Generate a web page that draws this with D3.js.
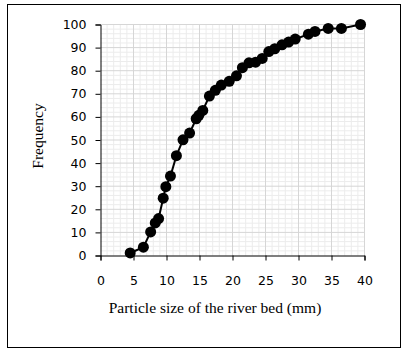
<!DOCTYPE html>
<html>
<head>
<meta charset="utf-8">
<script src="https://cdn.jsdelivr.net/npm/d3@7"></script>
<style>
  body { margin: 0; background: #fff; }
  svg { display: block; }
</style>
</head>
<body>
<svg width="406" height="355"></svg>
<script>
// particle size (mm) and cumulative frequency
const sizes = [4.5, 6.5, 7.6, 8.3, 8.8, 9.5, 9.9, 10.6, 11.5, 12.5, 13.5, 14.5, 14.9, 15.5,
               16.5, 17.4, 18.3, 19.5, 20.6, 21.5, 22.5, 23.5, 24.5, 25.5, 26.4, 27.5, 28.5,
               29.5, 31.5, 32.5, 34.5, 36.5, 39.4];
const frequency = [1.1, 3.6, 10.2, 14.1, 16, 24.8, 29.8, 34.4, 43.2, 50.1, 53, 59.2, 60.7, 62.8,
                   69, 71.5, 73.8, 75.4, 77.8, 81.3, 83.4, 83.7, 85.3, 88.3, 89.5, 91.2, 92.4,
                   93.7, 95.8, 97, 98.3, 98.3, 100];
const xTicks = [0, 5, 10, 15, 20, 25, 30, 35, 40];
const yTicks = [0, 10, 20, 30, 40, 50, 60, 70, 80, 90, 100];
const xTitle = "Particle size of the river bed (mm)";
const yTitle = "Frequency";

const points = sizes.map((s, i) => ({ x: s, y: frequency[i] }));

const svg = d3.select("svg");

// frame round the whole figure
svg.append("rect")
  .attr("x", 7.5).attr("y", 4.5)
  .attr("width", 393).attr("height", 343)
  .attr("fill", "none").attr("stroke", "#000").attr("stroke-width", 1);

const area = { left: 100.5, right: 364.5, top: 24.5, bottom: 255.5 };

const scX = d3.scaleLinear().domain([0, 40]).range([area.left, area.right]);
const scY = d3.scaleLinear().domain([0, 100]).range([area.bottom, area.top]);

// minor grid
svg.append("g").selectAll("line")
  .data(d3.range(0, 41, 1).filter(v => v % 5 !== 0))
  .join("line")
  .attr("x1", d => scX(d)).attr("x2", d => scX(d))
  .attr("y1", area.top).attr("y2", area.bottom)
  .attr("stroke", "#ececec");
svg.append("g").selectAll("line")
  .data(d3.range(0, 101, 2).filter(v => v % 10 !== 0))
  .join("line")
  .attr("y1", d => scY(d)).attr("y2", d => scY(d))
  .attr("x1", area.left).attr("x2", area.right)
  .attr("stroke", "#ececec");

// major grid
svg.append("g").selectAll("line")
  .data(xTicks.slice(1))
  .join("line")
  .attr("x1", d => scX(d)).attr("x2", d => scX(d))
  .attr("y1", area.top).attr("y2", area.bottom)
  .attr("stroke", "#d6d6d6");
svg.append("g").selectAll("line")
  .data(yTicks.slice(1))
  .join("line")
  .attr("y1", d => scY(d)).attr("y2", d => scY(d))
  .attr("x1", area.left).attr("x2", area.right)
  .attr("stroke", "#d6d6d6");

// axes
const axisX = d3.axisBottom(scX).tickValues(xTicks).tickSize(5).tickPadding(16);
const axisY = d3.axisLeft(scY).tickValues(yTicks).tickSize(5).tickPadding(9);

const gx = svg.append("g")
  .attr("transform", `translate(0, ${area.bottom})`)
  .call(axisX);
const gy = svg.append("g")
  .attr("transform", `translate(${area.left}, 0)`)
  .call(axisY);

[gx, gy].forEach(g => {
  g.select(".domain").attr("stroke", "#000");
  g.selectAll(".tick line").attr("stroke", "#000");
  g.selectAll("text")
    .attr("fill", "#000")
    .style("font-family", "DejaVu Sans, Verdana, sans-serif")
    .style("font-size", "12.5px");
});

// line and markers
const line = d3.line().x(d => scX(d.x)).y(d => scY(d.y));
svg.append("path")
  .datum(points)
  .attr("d", line)
  .attr("fill", "none")
  .attr("stroke", "#000")
  .attr("stroke-width", 2);

svg.append("g").selectAll("circle")
  .data(points)
  .join("circle")
  .attr("cx", d => scX(d.x))
  .attr("cy", d => scY(d.y))
  .attr("r", 5.5)
  .attr("fill", "#000");

// axis titles
svg.append("text")
  .attr("x", 215).attr("y", 313)
  .attr("text-anchor", "middle")
  .style("font-family", "Liberation Serif, Times New Roman, serif")
  .style("font-size", "15.5px")
  .text(xTitle);

svg.append("text")
  .attr("transform", "translate(43, 136) rotate(-90)")
  .attr("text-anchor", "middle")
  .style("font-family", "Liberation Serif, Times New Roman, serif")
  .style("font-size", "15.5px")
  .text(yTitle);
</script>
</body>
</html>
